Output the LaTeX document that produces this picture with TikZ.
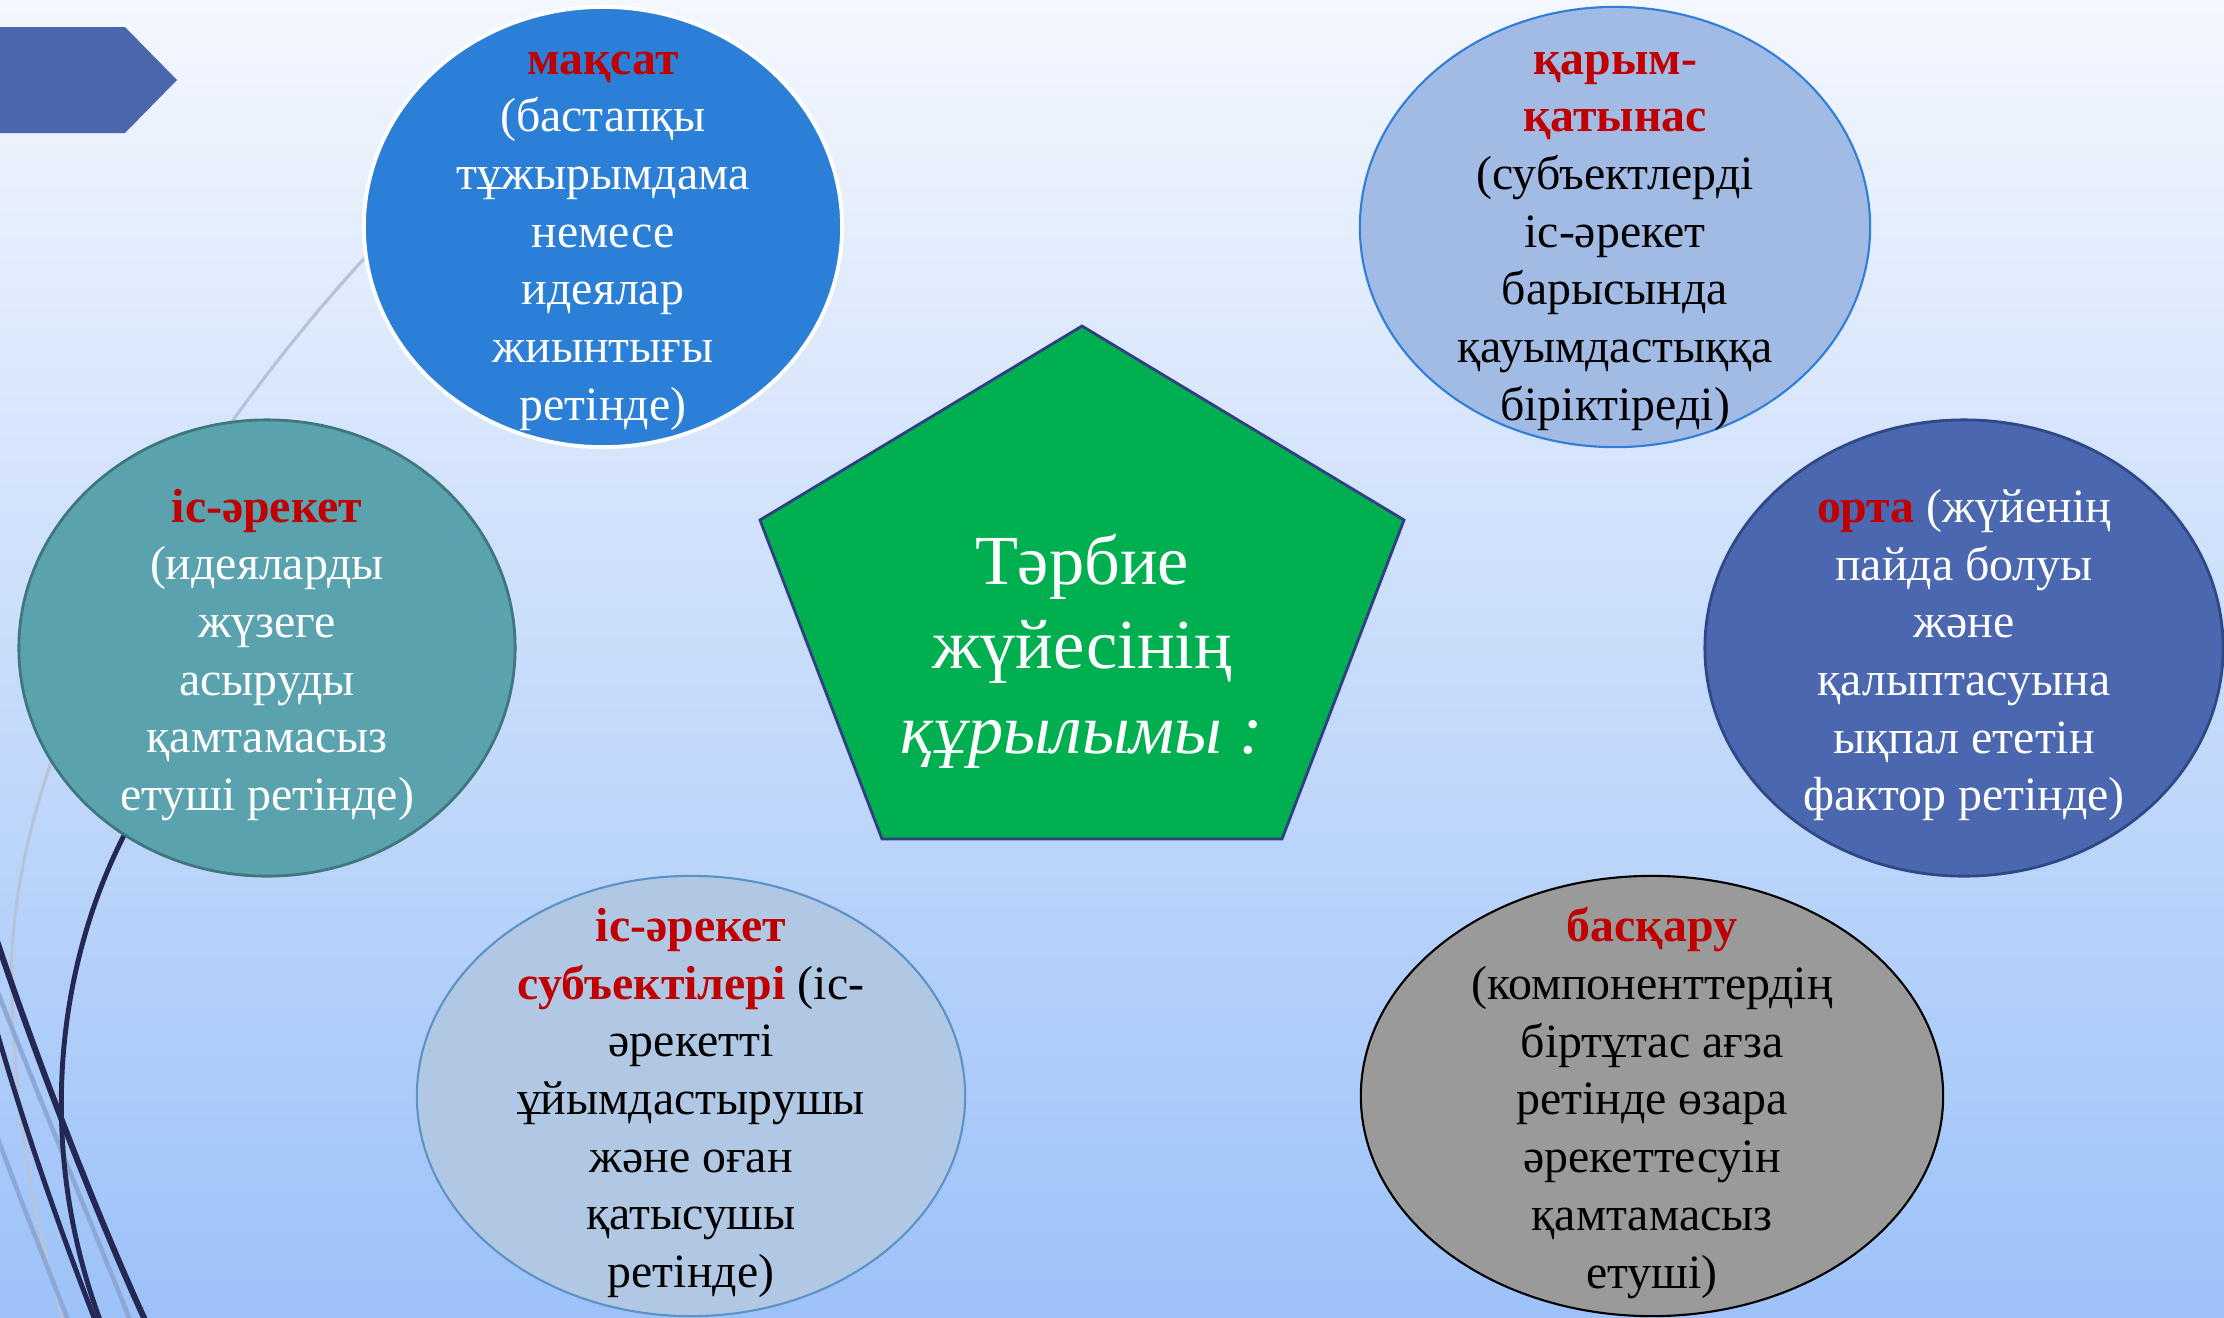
\documentclass[tikz,border=0pt]{standalone}
\usepackage{fontspec}
\setmainfont{Liberation Serif}
\usetikzlibrary{shapes.geometric}

\definecolor{bgtop}{HTML}{F4F7FE}
\definecolor{bgmid}{HTML}{D4E4FB}
\definecolor{bgbot}{HTML}{9CC2F8}
\definecolor{keyred}{HTML}{C00000}
\definecolor{tabblue}{HTML}{4A67AE}
\definecolor{wispgray}{HTML}{B7C3D9}
\definecolor{wisplight}{HTML}{8EA8D6}
\definecolor{wispnavy}{HTML}{252852}
\definecolor{goalfill}{HTML}{2B7FD7}
\definecolor{commfill}{HTML}{A2BBE5}
\definecolor{commline}{HTML}{2F7ED8}
\definecolor{actfill}{HTML}{5AA3AE}
\definecolor{actline}{HTML}{3F777C}
\definecolor{envfill}{HTML}{4A67AF}
\definecolor{envline}{HTML}{2F4886}
\definecolor{subjfill}{HTML}{B0C8E3}
\definecolor{subjline}{HTML}{5B93C8}
\definecolor{mgmtfill}{HTML}{9A9A9A}
\definecolor{pentfill}{HTML}{00AF50}
\definecolor{pentline}{HTML}{2F3F82}

\newcommand\keyw[1]{\textcolor{keyred}{\textbf{#1}}}
\newcommand\bubfont{\fontsize{13.6}{16.4}\selectfont}
\newcommand\titlefont{\fontsize{20}{24}\selectfont}

\tikzset{
  bubble/.style={ellipse, inner sep=0pt},
  bubtext/.style={align=center, inner sep=0pt, font=\bubfont},
  lightwisp/.style={draw=wisplight, line width=1.3pt},
  darkwisp/.style={draw=wispnavy, line width=1.4pt}
}

\begin{document}
\begin{tikzpicture}[x=0.01cm, y=-0.01cm]
  \useasboundingbox (0,0) rectangle (2224,1317);
  \shade[top color=bgtop, middle color=bgmid, bottom color=bgbot] (0,0) rectangle (2224,1317);

  % tab in the corner
  \fill[tabblue] (0,27) -- (125,27) -- (177,80) -- (125,133) -- (0,133) -- cycle;

  % wisps on the left
  \draw[draw=wispgray, line width=0.9pt] (420,200) .. controls (180,440) and (0,760) .. (12,1000)
        .. controls (18,1130) and (30,1200) .. (63,1320);
  \draw[lightwisp] (-5,985) .. controls (40,1100) and (90,1220) .. (130,1320);
  \draw[lightwisp] (-5,1130) .. controls (20,1200) and (45,1260) .. (68,1320);
  \draw[darkwisp, line width=1.7pt] (-5,935) .. controls (30,1040) and (90,1200) .. (145,1320);
  \draw[darkwisp] (-5,1025) .. controls (25,1130) and (60,1230) .. (95,1320);
  \draw[darkwisp] (150,790) .. controls (60,930) and (30,1130) .. (100,1320);

  % bubbles
  \node[bubble, fill=goalfill, draw=white, line width=1.1pt,
        minimum width=4.78cm, minimum height=4.40cm] (goal) at (603,227) {};
  \node[bubble, fill=commfill, draw=commline, line width=0.6pt,
        minimum width=5.10cm, minimum height=4.40cm] (comm) at (1615,227) {};
  \node[bubble, fill=actfill, draw=actline, line width=0.8pt,
        minimum width=4.96cm, minimum height=4.56cm] (act) at (267,648) {};
  \node[bubble, fill=envfill, draw=envline, line width=0.8pt,
        minimum width=5.18cm, minimum height=4.56cm] (env) at (1964,648) {};
  \node[bubble, fill=subjfill, draw=subjline, line width=0.6pt,
        minimum width=5.48cm, minimum height=4.40cm] (subj) at (691,1096) {};
  \node[bubble, fill=mgmtfill, draw=black, line width=0.6pt,
        minimum width=5.82cm, minimum height=4.40cm] (mgmt) at (1652,1096) {};

  \node[bubtext, text=white] (goal-txt) at (603,241) {\keyw{мақсат}\\(бастапқы\\тұжырымдама\\немесе\\идеялар\\жиынтығы\\ретінде)};
  \node[bubtext, text=black] (comm-txt) at (1615,241) {\keyw{қарым-}\\\keyw{қатынас}\\(субъектлерді\\іс-әрекет\\барысында\\қауымдастыққа\\біріктіреді)};
  \node[bubtext, text=white] (act-txt) at (267,655) {\keyw{іс-әрекет}\\(идеяларды\\жүзеге\\асыруды\\қамтамасыз\\етуші ретінде)};
  \node[bubtext, text=white] (env-txt) at (1964,655) {\keyw{орта} (жүйенің\\пайда болуы\\және\\қалыптасуына\\ықпал ететін\\фактор ретінде)};
  \node[bubtext, text=black] (subj-txt) at (691,1103) {\keyw{іс-әрекет}\\\keyw{субъектілері} (іс-\\әрекетті\\ұйымдастырушы\\және оған\\қатысушы\\ретінде)};
  \node[bubtext, text=black] (mgmt-txt) at (1652,1103) {\keyw{басқару}\\(компоненттердің\\біртұтас ағза\\ретінде өзара\\әрекеттесуін\\қамтамасыз\\етуші)};

  % centre pentagon
  \draw[fill=pentfill, draw=pentline, line width=0.8pt]
    (1082,326) -- (1404,520) -- (1282,839) -- (882,839) -- (760,520) -- cycle;
  \node[align=center, text=white, font=\titlefont, inner sep=0pt] (title) at (1082,651)
    {Тәрбие\\жүйесінің\\\textit{құрылымы :}};
\end{tikzpicture}
\end{document}
